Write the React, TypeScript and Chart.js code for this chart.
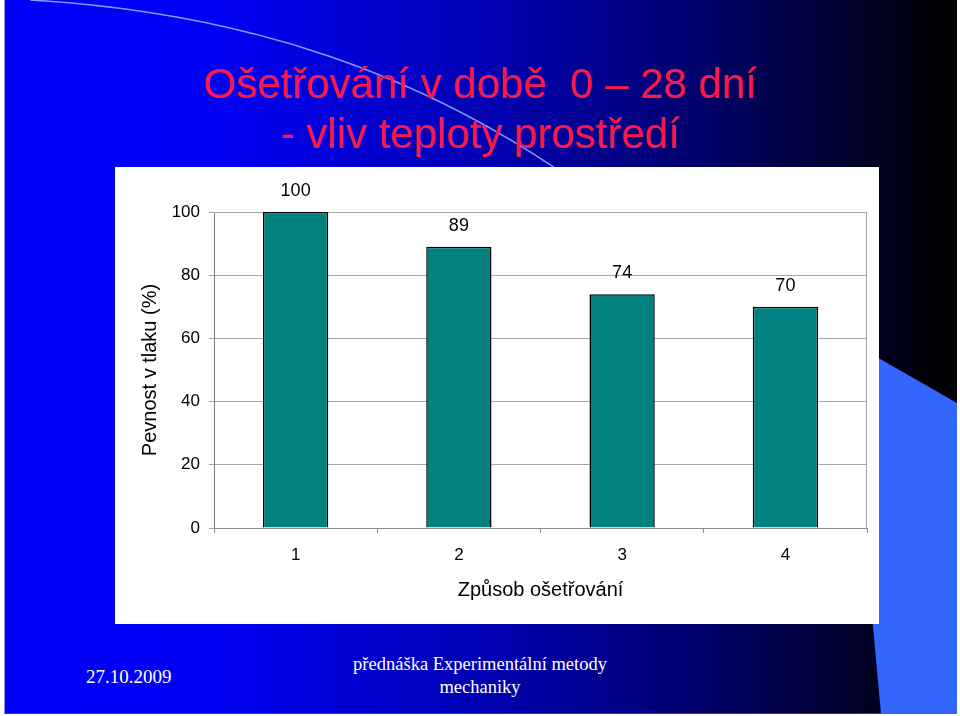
import React, { useEffect, useRef } from 'react';
import { Chart, registerables } from 'chart.js';

Chart.register(...registerables);

const categories: string[] = ['1', '2', '3', '4'];
const strengthValues: number[] = [100, 89, 74, 70];
const yMin = 0;
const yMax = 100;
const yStep = 20;

const titleLines: string[] = ['Ošetřování v době  0 – 28 dní', '- vliv teploty prostředí'];
const yAxisTitle = 'Pevnost v tlaku (%)';
const xAxisTitle = 'Způsob ošetřování';
const footerDate = '27.10.2009';
const footerLines: string[] = ['přednáška Experimentální metody', 'mechaniky'];

const SANS = '"Liberation Sans", Arial, Helvetica, sans-serif';
const SERIF = '"Liberation Serif", "Times New Roman", serif';

const framePlugin = {
  id: 'frame',
  beforeDatasetsDraw(chart: any) {
    const { ctx, chartArea } = chart;
    ctx.save();
    ctx.strokeStyle = '#a6a6a6';
    ctx.lineWidth = 1;
    ctx.beginPath();
    ctx.moveTo(chartArea.left, chartArea.top + 0.5);
    ctx.lineTo(chartArea.right - 0.5, chartArea.top + 0.5);
    ctx.lineTo(chartArea.right - 0.5, chartArea.bottom);
    ctx.stroke();
    ctx.restore();
  },
};

const valueLabelPlugin = {
  id: 'valueLabels',
  afterDatasetsDraw(chart: any) {
    const { ctx } = chart;
    const meta = chart.getDatasetMeta(0);
    const data = chart.data.datasets[0].data as number[];
    ctx.save();
    ctx.fillStyle = '#000000';
    ctx.font = `18px ${SANS}`;
    ctx.textAlign = 'center';
    ctx.textBaseline = 'middle';
    meta.data.forEach((bar: any, i: number) => {
      ctx.fillText(String(data[i]), bar.x, bar.y - 21);
    });
    ctx.restore();
  },
};

function BarChart() {
  const canvasRef = useRef<HTMLCanvasElement | null>(null);

  useEffect(() => {
    if (!canvasRef.current) return;
    const chart = new Chart(canvasRef.current, {
      type: 'bar',
      data: {
        labels: categories,
        datasets: [
          {
            data: strengthValues,
            backgroundColor: '#008080',
            borderColor: '#000000',
            borderWidth: 1.5,
            categoryPercentage: 1,
            barPercentage: 0.4,
          },
        ],
      },
      options: {
        animation: false,
        responsive: true,
        maintainAspectRatio: false,
        layout: { padding: { top: 45, right: 12, left: 0, bottom: 0 } },
        plugins: {
          legend: { display: false },
          tooltip: { enabled: false },
          title: { display: false },
        },
        scales: {
          x: {
            afterFit: (scale: any) => {
              scale.height = 96;
            },
            grid: {
              offset: true,
              drawOnChartArea: false,
              drawTicks: true,
              tickLength: 5,
              color: '#8c8c8c',
            },
            border: { display: true, color: '#8c8c8c', width: 1 },
            ticks: {
              color: '#000000',
              font: { family: SANS, size: 17 },
              padding: 12,
            },
            title: {
              display: true,
              text: xAxisTitle,
              color: '#000000',
              font: { family: SANS, size: 20 },
              padding: { top: 0, bottom: 22 },
            },
          },
          y: {
            min: yMin,
            max: yMax,
            afterFit: (scale: any) => {
              scale.width = 99;
            },
            grid: {
              color: '#a6a6a6',
              tickLength: 5,
              drawTicks: true,
            },
            border: { display: true, color: '#808080', width: 1 },
            ticks: {
              stepSize: yStep,
              color: '#000000',
              font: { family: SANS, size: 17 },
              padding: 9,
            },
            title: {
              display: true,
              text: yAxisTitle,
              color: '#000000',
              font: { family: SANS, size: 20 },
              padding: { top: 23, bottom: 0 },
            },
          },
        },
      },
      plugins: [framePlugin, valueLabelPlugin],
    });
    return () => {
      chart.destroy();
    };
  }, []);

  return <canvas ref={canvasRef} />;
}

export default function App() {
  return (
    <div
      style={{
        position: 'absolute',
        left: 0,
        top: 0,
        width: 960,
        height: 716,
        overflow: 'hidden',
        background: '#ffffff',
      }}
    >
      <div
        style={{
          position: 'absolute',
          left: 4,
          top: 0,
          width: 953,
          height: 714,
          background:
            'linear-gradient(to right, #0000fa 0%, #0000f4 22%, #0000b4 50%, #000070 72%, #000030 88%, #000008 97%, #000000 100%)',
          borderLeft: '1px solid #9090e0',
          borderBottom: '1px solid #404060',
          boxSizing: 'border-box',
        }}
      />
      <svg
        width={960}
        height={716}
        style={{ position: 'absolute', left: 0, top: 0 }}
      >
        <path
          d="M 30 0 C 240 12, 430 72, 600 200"
          stroke="#7f9cff"
          strokeWidth={1.5}
          fill="none"
        />
        <polygon points="847,340 957,403 957,714 881,714" fill="#3366ff" />
      </svg>
      <div
        style={{
          position: 'absolute',
          left: 0,
          top: 59,
          width: 960,
          textAlign: 'center',
          color: '#f81a48',
          fontFamily: SANS,
          fontSize: 42,
          lineHeight: '50px',
          whiteSpace: 'pre',
        }}
      >
        {titleLines.map((t, i) => (
          <div key={i}>{t}</div>
        ))}
      </div>
      <div
        style={{
          position: 'absolute',
          left: 115,
          top: 167,
          width: 764,
          height: 457,
          background: '#ffffff',
        }}
      >
        <BarChart />
      </div>
      <div
        style={{
          position: 'absolute',
          left: 86,
          top: 665,
          color: '#ffffff',
          fontFamily: SERIF,
          fontSize: 19,
          lineHeight: '24px',
          whiteSpace: 'pre',
        }}
      >
        {footerDate}
      </div>
      <div
        style={{
          position: 'absolute',
          left: 280,
          top: 653,
          width: 400,
          textAlign: 'center',
          color: '#ffffff',
          fontFamily: SERIF,
          fontSize: 18.5,
          lineHeight: '23px',
        }}
      >
        {footerLines.map((t, i) => (
          <div key={i}>{t}</div>
        ))}
      </div>
    </div>
  );
}
